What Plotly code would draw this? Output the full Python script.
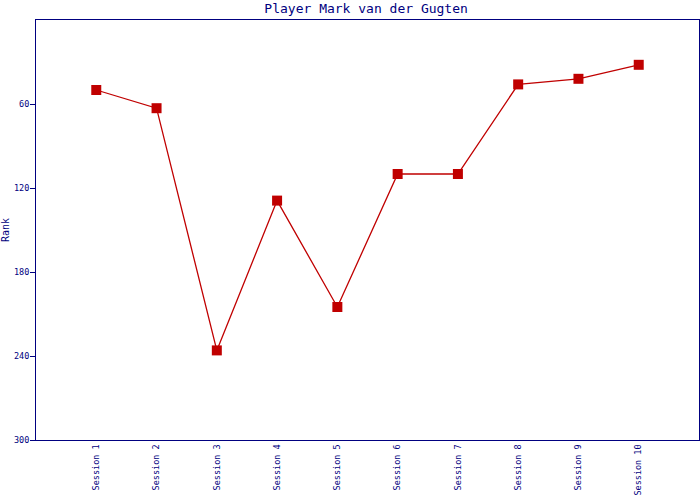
import plotly.graph_objects as go

sessions = ["Session 1", "Session 2", "Session 3", "Session 4", "Session 5",
            "Session 6", "Session 7", "Session 8", "Session 9", "Session 10"]
ranks = [50, 63, 236, 129, 205, 110, 110, 46, 42, 32]
y_ticks = [60, 120, 180, 240, 300]

navy = "#000080"
red = "#c00000"

fig = go.Figure(go.Scatter(
    x=sessions, y=ranks, mode="lines+markers",
    line=dict(color=red, width=1.3),
    marker=dict(symbol="square", size=10, color=red),
))

fig.update_layout(
    width=700, height=500,
    margin=dict(l=36, r=1, t=20, b=60, autoexpand=False),
    paper_bgcolor="white", plot_bgcolor="white",
    showlegend=False,
    title=dict(text="Player Mark van der Gugten", x=0.523, xanchor="center",
               yref="container", y=0.992, yanchor="top", pad=dict(t=0),
               font=dict(family="DejaVu Sans Mono", size=13, color=navy)),
    font=dict(family="DejaVu Sans Mono", color=navy),
)
fig.update_xaxes(
    type="category", range=[-1, 10], showgrid=False, zeroline=False,
    showline=True, linecolor=navy, linewidth=1, mirror=True, automargin=False,
    ticks="", tickangle=-90, tickfont=dict(size=8.5, color=navy),
)
fig.update_yaxes(
    range=[300, 0], tickvals=y_ticks, showgrid=False, zeroline=False,
    showline=True, linecolor=navy, linewidth=1, mirror=True, automargin=False,
    ticks="outside", ticklen=5, tickcolor=navy, ticklabelstandoff=-1,
    tickfont=dict(size=8.5, color=navy),
    title=dict(text="Rank", font=dict(size=10, color=navy), standoff=2),
)

fig.write_html("out.html", config={"displayModeBar": False},
               post_script="document.body.style.margin='0';")
